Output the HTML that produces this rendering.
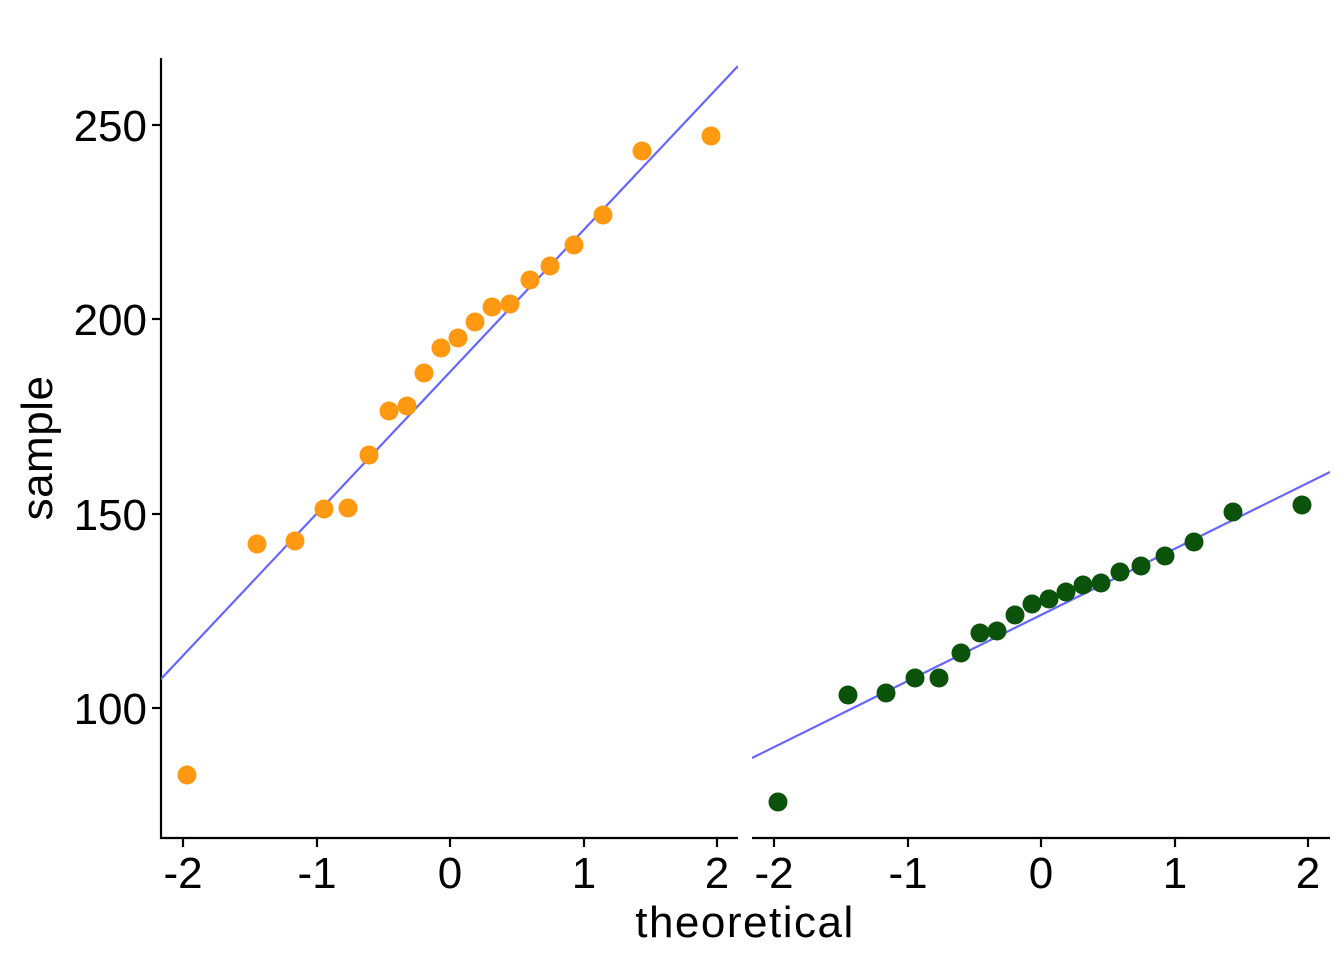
<!DOCTYPE html>
<html><head><meta charset="utf-8"><style>
html,body{margin:0;padding:0;background:#fff;}
svg{display:block;}
text{font-family:"Liberation Sans",sans-serif;fill:#000;}
</style></head><body>
<svg width="1344" height="960" viewBox="0 0 1344 960" xmlns="http://www.w3.org/2000/svg">
<rect width="1344" height="960" fill="#fff"/>
<defs>
<clipPath id="cl"><rect x="161" y="58" width="577" height="780"/></clipPath>
<clipPath id="cr"><rect x="752" y="58" width="578" height="780"/></clipPath>
</defs>
<g stroke="#000" stroke-width="2.2" fill="none">
<line x1="161" y1="58" x2="161" y2="839"/>
<line x1="160" y1="838" x2="738" y2="838"/>
<line x1="752" y1="838" x2="1330" y2="838"/>
<line x1="152" y1="125" x2="161" y2="125"/>
<line x1="152" y1="319" x2="161" y2="319"/>
<line x1="152" y1="514" x2="161" y2="514"/>
<line x1="152" y1="708" x2="161" y2="708"/>
<line x1="183" y1="838" x2="183" y2="847"/>
<line x1="317" y1="838" x2="317" y2="847"/>
<line x1="450" y1="838" x2="450" y2="847"/>
<line x1="584" y1="838" x2="584" y2="847"/>
<line x1="717" y1="838" x2="717" y2="847"/>
<line x1="774" y1="838" x2="774" y2="847"/>
<line x1="908" y1="838" x2="908" y2="847"/>
<line x1="1041" y1="838" x2="1041" y2="847"/>
<line x1="1175" y1="838" x2="1175" y2="847"/>
<line x1="1308" y1="838" x2="1308" y2="847"/>
</g>
<g font-size="44" text-anchor="end">
<text x="147" y="141">250</text>
<text x="147" y="335">200</text>
<text x="147" y="530">150</text>
<text x="147" y="724">100</text>
</g>
<g font-size="44" text-anchor="middle">
<text x="183" y="888">-2</text><text x="317" y="888">-1</text><text x="450" y="888">0</text><text x="584" y="888">1</text><text x="717" y="888">2</text>
<text x="774" y="888">-2</text><text x="908" y="888">-1</text><text x="1041" y="888">0</text><text x="1175" y="888">1</text><text x="1308" y="888">2</text>
<text x="745" y="937" letter-spacing="1.5">theoretical</text>
<text transform="translate(52,448) rotate(-90)" letter-spacing="0.5">sample</text>
</g>
<line x1="161" y1="679" x2="738" y2="66" stroke="#6666FF" stroke-width="2.2" clip-path="url(#cl)"/>
<line x1="752" y1="758" x2="1330" y2="472" stroke="#6666FF" stroke-width="2.2" clip-path="url(#cr)"/>
<g fill="#FF9912">
<circle cx="187" cy="775" r="9.5"/><circle cx="257" cy="544" r="9.5"/><circle cx="295" cy="541" r="9.5"/><circle cx="324" cy="509" r="9.5"/><circle cx="348" cy="508" r="9.5"/><circle cx="369" cy="455" r="9.5"/><circle cx="389" cy="411" r="9.5"/><circle cx="407" cy="406" r="9.5"/><circle cx="424" cy="373" r="9.5"/><circle cx="441" cy="348" r="9.5"/><circle cx="458" cy="338" r="9.5"/><circle cx="475" cy="322" r="9.5"/><circle cx="492" cy="307" r="9.5"/><circle cx="510" cy="304" r="9.5"/><circle cx="530" cy="280" r="9.5"/><circle cx="550" cy="266" r="9.5"/><circle cx="574" cy="245" r="9.5"/><circle cx="603" cy="215" r="9.5"/><circle cx="642" cy="151" r="9.5"/><circle cx="711" cy="136" r="9.5"/>
</g>
<g fill="#0B530B">
<circle cx="778" cy="802" r="9.5"/><circle cx="848" cy="695" r="9.5"/><circle cx="886" cy="693" r="9.5"/><circle cx="915" cy="678" r="9.5"/><circle cx="939" cy="678" r="9.5"/><circle cx="961" cy="653" r="9.5"/><circle cx="980" cy="633" r="9.5"/><circle cx="997" cy="631" r="9.5"/><circle cx="1015" cy="615" r="9.5"/><circle cx="1032" cy="604" r="9.5"/><circle cx="1049" cy="599" r="9.5"/><circle cx="1066" cy="592" r="9.5"/><circle cx="1083" cy="585" r="9.5"/><circle cx="1101" cy="583" r="9.5"/><circle cx="1120" cy="572" r="9.5"/><circle cx="1141" cy="566" r="9.5"/><circle cx="1165" cy="556" r="9.5"/><circle cx="1194" cy="542" r="9.5"/><circle cx="1233" cy="512" r="9.5"/><circle cx="1302" cy="505" r="9.5"/>
</g>
</svg>
</body></html>
